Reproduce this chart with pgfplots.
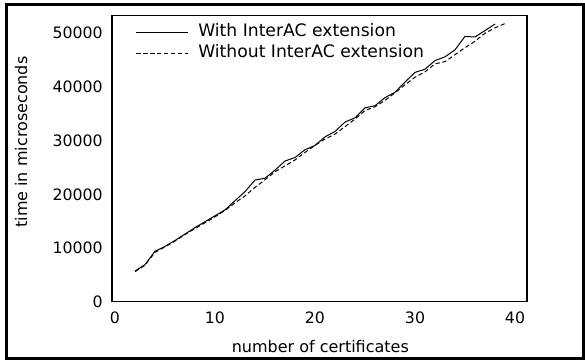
\documentclass[border=0pt]{standalone}
\usepackage{fontspec}
\setmainfont{DejaVu Sans}
\usepackage{pgfplots}
\pgfplotsset{compat=1.18}
\begin{document}
\begin{tikzpicture}[x=1pt,y=1pt]
\useasboundingbox (0,0) rectangle (438.75,271.5);
\draw[line width=2.25pt] (4.5,2.625) rectangle (437.25,268.1);
\begin{axis}[
  at={(86.25pt,45.225pt)}, anchor=origin,
  scale only axis, width=311.25pt, height=214.5pt,
  xmin=-0.3, xmax=41.2, ymin=0, ymax=53260,
  xtick={0,10,20,30,40}, ytick={0,10000,20000,30000,40000,50000},
  scaled y ticks=false,
  /pgf/number format/.cd, assume math mode=true, set thousands separator={}, 1000 sep={},
  /pgfplots/.cd,
  major tick length=0pt,
  axis line style={line width=0.8pt},
  tick label style={font=\fontsize{11.8}{13}\selectfont},
  yticklabel style={xshift=-3.5pt},
  xticklabel style={yshift=-4.3pt},
  label style={font=\fontsize{12}{14}\selectfont},
  xlabel={number of certificates},
  ylabel={time in microseconds},
  xlabel style={at={(axis description cs:0.502,-0.158)}, anchor=center},
  ylabel style={at={(axis description cs:-0.219,0.558)}, anchor=center},
  legend cell align=left,
  legend image code/.code={\draw[#1] (0pt,0pt) -- (39pt,0pt);},
  legend style={draw=none, fill=none, at={(axis description cs:0.057,0.978)}, anchor=north west,
    inner sep=0pt, row sep=0pt, column sep=6pt, font=\fontsize{12.9}{15}\selectfont,
    nodes={inner xsep=1pt, inner ysep=2pt, text height=8.9pt, text depth=2.6pt}},
]
\addplot[black, line width=0.75pt] coordinates {
(2,5700) (3,6900) (4,9400) (5,10300) (6,11400) (7,12600) (8,13800) (9,14900)
(10,16000) (11,17100) (12,18800) (13,20500) (14,22650) (15,23000) (16,24500)
(17,26200) (18,26850) (19,28300) (20,29100) (21,30700) (22,31700) (23,33450)
(24,34250) (25,36100) (26,36500) (27,38000) (28,39000) (29,40900) (30,42700)
(31,43300) (32,44900) (33,45600) (34,46900) (35,49400) (36,49300) (37,50500) (38,51700)
};
\addlegendentry{With InterAC extension}
\addplot[black, line width=0.75pt, dash pattern=on 3.2pt off 2pt] coordinates {
(2,5600) (3,6800) (4,9200) (5,10200) (6,11300) (7,12500) (8,13600) (9,14700)
(10,15800) (11,17000) (12,18400) (13,19700) (14,21300) (15,22700) (16,24200)
(17,25300) (18,26400) (19,27800) (20,29100) (21,30300) (22,31200) (23,32600)
(24,34000) (25,35600) (26,36300) (27,37500) (28,38900) (29,40400) (30,41800)
(31,42800) (32,44300) (33,44700) (34,46000) (35,47300) (36,48500) (37,50000)
(38,51000) (39,51800)
};
\addlegendentry{Without InterAC extension}
\end{axis}
\end{tikzpicture}
\end{document}
